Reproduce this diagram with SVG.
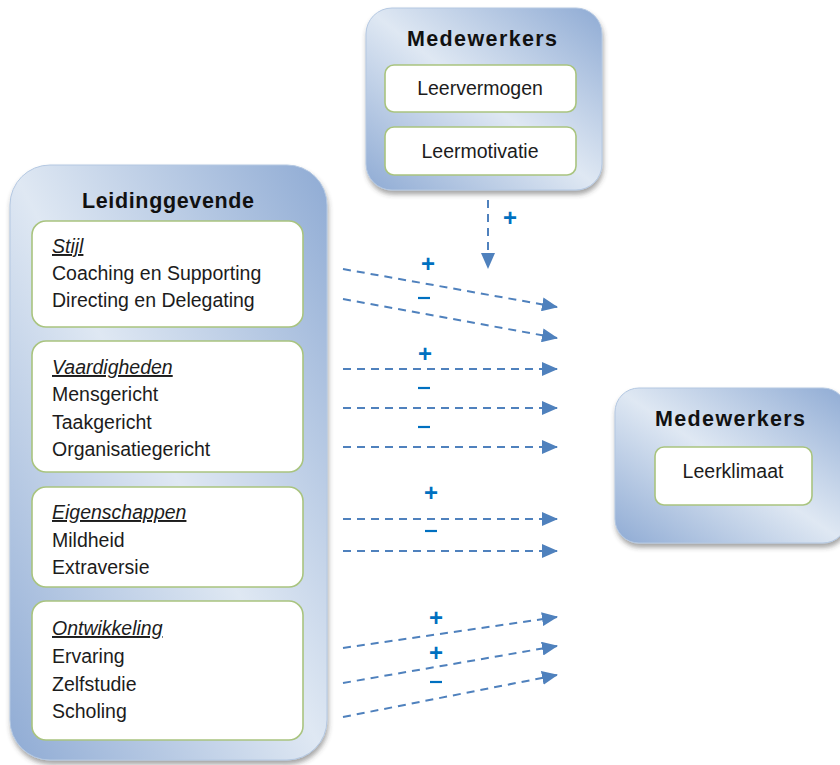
<svg xmlns="http://www.w3.org/2000/svg" width="840" height="765" viewBox="0 0 840 765">
  <defs>
    <linearGradient id="panelFill" x1="0" y1="1" x2="1" y2="0">
      <stop offset="0" stop-color="#8fabd4"/>
      <stop offset="0.5" stop-color="#dfe8f3"/>
      <stop offset="1" stop-color="#8fabd4"/>
    </linearGradient>
    <filter id="shadow" x="-10%" y="-10%" width="125%" height="125%">
      <feDropShadow dx="1" dy="4" stdDeviation="2.5" flood-color="#3a3a3a" flood-opacity="0.45"/>
    </filter>
    <marker id="arrow" markerUnits="userSpaceOnUse" markerWidth="16" markerHeight="14" refX="15" refY="7" orient="auto">
      <path d="M0,0 L16,7 L0,14 Z" fill="#4f81bd"/>
    </marker>
    <style>
      .panel { fill: url(#panelFill); stroke: #b4c8e2; stroke-width: 1; filter: url(#shadow); }
      .item { fill: #ffffff; stroke: #a9c47f; stroke-width: 1.6; }
      .title { font-family: "Liberation Sans", Arial, sans-serif; font-weight: bold; font-size: 21.5px; fill: #111111; text-anchor: middle; }
      .txt { font-family: "Liberation Sans", Arial, sans-serif; font-size: 19.5px; fill: #1c1c1c; }
      .mid { text-anchor: middle; }
      .head { font-style: italic; text-decoration: underline; }
      .link { fill: none; stroke: #4f81bd; stroke-width: 2; stroke-dasharray: 8 6; marker-end: url(#arrow); }
      .sign { font-family: "Liberation Sans", Arial, sans-serif; font-weight: bold; font-size: 24px; fill: #0070c0; text-anchor: middle; }
      .minus { stroke: #0070c0; stroke-width: 2.2; }
    </style>
  </defs>

  <!-- Employees: learning ability and motivation -->
  <g id="medewerkers-top">
    <rect class="panel" x="366" y="8" width="236" height="182" rx="26"/>
    <text class="title" x="482" y="46" textLength="150" lengthAdjust="spacing">Medewerkers</text>
    <rect class="item" x="385" y="65" width="191" height="47" rx="9"/>
    <text class="txt mid" x="480" y="95">Leervermogen</text>
    <rect class="item" x="385" y="127" width="191" height="48" rx="9"/>
    <text class="txt mid" x="480" y="158">Leermotivatie</text>
  </g>

  <!-- Manager: style, skills, traits, development -->
  <g id="leidinggevende">
    <rect class="panel" x="10" y="165" width="317" height="595" rx="40"/>
    <text class="title" x="168" y="208" textLength="172" lengthAdjust="spacing">Leidinggevende</text>

    <g id="stijl">
      <rect class="item" x="32" y="221" width="271" height="106" rx="14"/>
      <text class="txt head" x="52" y="253">Stijl</text>
      <text class="txt" x="52" y="280">Coaching en Supporting</text>
      <text class="txt" x="52" y="307">Directing en Delegating</text>
    </g>

    <g id="vaardigheden">
      <rect class="item" x="32" y="341" width="271" height="131" rx="14"/>
      <text class="txt head" x="52" y="374">Vaardigheden</text>
      <text class="txt" x="52" y="401">Mensgericht</text>
      <text class="txt" x="52" y="429">Taakgericht</text>
      <text class="txt" x="52" y="456">Organisatiegericht</text>
    </g>

    <g id="eigenschappen">
      <rect class="item" x="32" y="487" width="271" height="100" rx="14"/>
      <text class="txt head" x="52" y="519">Eigenschappen</text>
      <text class="txt" x="52" y="547">Mildheid</text>
      <text class="txt" x="52" y="574">Extraversie</text>
    </g>

    <g id="ontwikkeling">
      <rect class="item" x="32" y="601" width="271" height="139" rx="14"/>
      <text class="txt head" x="52" y="635">Ontwikkeling</text>
      <text class="txt" x="52" y="663">Ervaring</text>
      <text class="txt" x="52" y="691">Zelfstudie</text>
      <text class="txt" x="52" y="718">Scholing</text>
    </g>
  </g>

  <!-- Employees: learning climate -->
  <g id="medewerkers-right">
    <rect class="panel" x="615" y="388" width="232" height="155" rx="24"/>
    <text class="title" x="730" y="426" textLength="150" lengthAdjust="spacing">Medewerkers</text>
    <rect class="item" x="655" y="447" width="157" height="58" rx="9"/>
    <text class="txt mid" x="733" y="478">Leerklimaat</text>
  </g>

  <!-- Influence arrows with their signs -->
  <g id="connectors">
    <path class="link" d="M488,200 L488,268"/>
    <text class="sign" x="510" y="226">+</text>

    <path class="link" d="M343,269 L557,307"/>
    <text class="sign" x="428" y="272">+</text>
    <path class="link" d="M343,299 L557,338"/>
    <line class="minus" x1="418" y1="298" x2="430" y2="298"/>

    <path class="link" d="M343,369 L557,369"/>
    <text class="sign" x="425" y="362">+</text>
    <path class="link" d="M343,408 L557,408"/>
    <line class="minus" x1="418" y1="388" x2="430" y2="388"/>
    <path class="link" d="M343,447 L557,447"/>
    <line class="minus" x1="418" y1="427" x2="430" y2="427"/>

    <path class="link" d="M343,519 L557,519"/>
    <text class="sign" x="431" y="501">+</text>
    <path class="link" d="M343,551 L557,551"/>
    <line class="minus" x1="425" y1="531" x2="437" y2="531"/>

    <path class="link" d="M343,648 L557,617"/>
    <text class="sign" x="436" y="626">+</text>
    <path class="link" d="M343,683 L557,646"/>
    <text class="sign" x="436" y="661">+</text>
    <path class="link" d="M343,717 L557,675"/>
    <line class="minus" x1="430" y1="682" x2="442" y2="682"/>
  </g>
</svg>
